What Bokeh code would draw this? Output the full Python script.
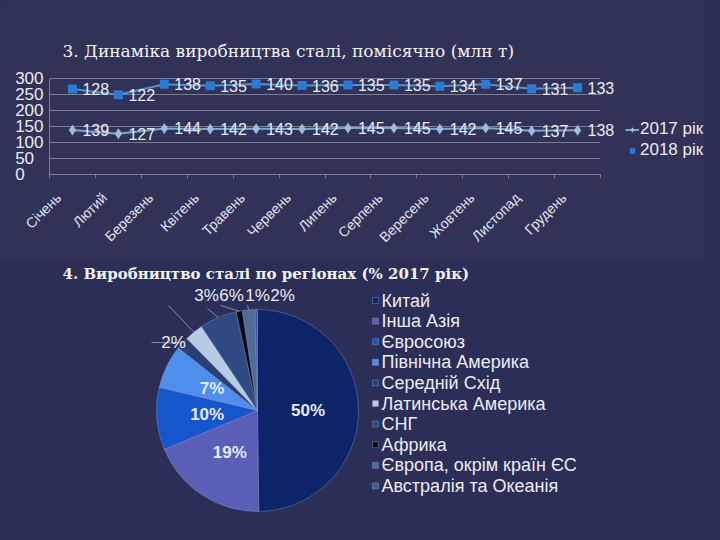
import math
import numpy as np
from bokeh.plotting import figure
from bokeh.models import (ColumnDataSource, Range1d, FixedTicker, LabelSet, Label,
                          Legend, LegendItem)
from bokeh.layouts import column
from bokeh.embed import file_html
from bokeh.resources import INLINE
from bokeh.core.properties import value

# ---------------- data ----------------
months = ["Січень", "Лютий", "Березень", "Квітень", "Травень", "Червень",
          "Липень", "Серпень", "Вересень", "Жовтень", "Листопад", "Грудень"]
prod_2017 = [139, 127, 144, 142, 143, 142, 145, 145, 142, 145, 137, 138]
prod_2018 = [128, 122, 138, 135, 140, 136, 135, 135, 134, 137, 131, 133]
y_ticks = [0, 50, 100, 150, 200, 250, 300]
series_names = ["2017 рік", "2018 рік"]
title_line = "3. Динаміка виробництва сталі, помісячно (млн т)"

regions = ["Китай", "Інша Азія", "Євросоюз", "Північна Америка", "Середній Схід",
           "Латинська Америка", "СНГ", "Африка", "Європа, окрім країн ЄС",
           "Австралія та Океанія"]
shares = [50, 19, 10, 7, 2, 3, 6, 1, 2, 0.4]
share_labels = ["50%", "19%", "10%", "7%", "2%", "3%", "6%", "1%", "2%", ""]
title_pie = "4. Виробництво сталі по регіонах (% 2017 рік)"

# ---------------- styles / layout ----------------
pie_colors = ["#0e2468", "#5b5eb6", "#1656cc", "#4e8fee", "#2c3f72",
              "#b7cbe6", "#2f4a82", "#0a0b18", "#4f6b97", "#3d5ca6"]
BG1 = "#303357"
PAGE_BG = "#2b2e56"
BG2 = PAGE_BG
TXT = "#ebebf2"
GRID = "#7c7e90"
SANS = "Liberation Sans"
NBSP = "\u00a0"
W = 704
H1 = 258
H2 = 266
FRAME_L = 49          # page x of the value axis
CAT_PX = 551 / 12     # px per month
Y0_PX = 174           # page y of value 0
PX_PER_UNIT = 0.32    # px per million tonnes

# ---------------- line chart ----------------
x = [i + 1 for i in range(len(months))]
y17 = list(prod_2017)
y18 = [a + b for a, b in zip(prod_2017, prod_2018)]  # stacked line chart
src = ColumnDataSource(dict(x=x, y17=y17, y18=y18,
                            l17=[str(v) for v in prod_2017],
                            l18=[str(v) for v in prod_2018]))

x_end = 0.5 + (W - FRAME_L) / CAT_PX
y_end = Y0_PX / PX_PER_UNIT
p1 = figure(width=W, height=H1, x_range=Range1d(0.5, x_end),
            y_range=Range1d(0, y_end),
            output_backend="svg", toolbar_location=None,
            min_border_left=FRAME_L, min_border_right=0,
            min_border_top=0, min_border_bottom=H1 - Y0_PX)
p1.background_fill_color = BG1
p1.border_fill_color = BG1
p1.outline_line_color = None
p1.xgrid.visible = False
p1.ygrid.visible = False

# gridlines across the category span only
gsrc = ColumnDataSource(dict(x0=[0.5] * len(y_ticks),
                             x1=[len(months) + 0.5] * len(y_ticks),
                             y=y_ticks))
p1.segment(x0='x0', y0='y', x1='x1', y1='y', source=gsrc,
           line_color=GRID, line_width=1)

l1 = p1.line('x', 'y17', source=src, line_color="#7fa6cc", line_width=2)
s1 = p1.scatter('x', 'y17', source=src, marker="diamond", size=11,
                fill_color="#9fbbd8", line_color=None)
l2 = p1.line('x', 'y18', source=src, line_color="#5a8fcc", line_width=2)
s2 = p1.scatter('x', 'y18', source=src, marker="square", size=9,
                fill_color="#2b7bd4", line_color=None)

for col in ("17", "18"):
    p1.add_layout(LabelSet(x='x', y='y' + col, text='l' + col, source=src,
                           x_offset=10, text_baseline="middle",
                           text_font_size="16px", text_color=TXT,
                           text_font=value(SANS)))

xa = p1.xaxis[0]
xa.bounds = (0.5, len(months) + 0.5)
xa.ticker = FixedTicker(ticks=x, minor_ticks=[i + 0.5 for i in range(len(months) + 1)])
xa.major_label_overrides = {xi: m + NBSP * 5 for xi, m in zip(x, months)}
xa.major_label_orientation = math.pi / 4
xa.major_tick_in = 0
xa.major_tick_out = 0
xa.minor_tick_in = 0
xa.minor_tick_out = 4
xa.minor_tick_line_color = GRID
xa.axis_line_color = GRID
xa.major_label_text_color = "#e2e2ea"
xa.major_label_text_font = SANS
xa.major_label_text_font_size = "14px"
xa.major_label_standoff = 3

ya = p1.yaxis[0]
ya.bounds = (y_ticks[0], y_ticks[-1])
ya.ticker = FixedTicker(ticks=y_ticks)
ya.major_label_overrides = {t: str(t) + NBSP * (2 * (3 - len(str(t)))) for t in y_ticks}
ya.major_tick_in = 0
ya.major_tick_out = 0
ya.minor_tick_line_color = None
ya.axis_line_color = GRID
ya.major_label_text_color = TXT
ya.major_label_text_font = SANS
ya.major_label_text_font_size = "17px"
ya.major_label_standoff = 6

leg = Legend(items=[LegendItem(label=series_names[0], renderers=[l1, s1]),
                    LegendItem(label=series_names[1], renderers=[s2])],
             location=(625 - FRAME_L, Y0_PX - 160.5), orientation="vertical",
             background_fill_alpha=0, border_line_color=None,
             padding=0, margin=0, spacing=0,
             glyph_width=14, glyph_height=21, label_height=21,
             label_standoff=1, label_text_font_size="17px",
             label_text_color=TXT, label_text_font=SANS)
p1.add_layout(leg)

p1.add_layout(Label(x=62 - FRAME_L, y=Y0_PX - 50, x_units="screen", y_units="screen",
                    text=title_line, text_font="DejaVu Serif",
                    text_font_size="17px", text_color="#f2f2f2",
                    text_baseline="middle"))

# ---------------- pie chart ----------------
PAGE_BOTTOM = H1 + H2


def Y(page_y):
    return PAGE_BOTTOM - page_y


p2 = figure(width=W, height=H2, x_range=Range1d(FRAME_L, W), y_range=Range1d(0, H2),
            x_axis_type=None, y_axis_type=None, output_backend="svg",
            toolbar_location=None, min_border_left=FRAME_L, min_border_right=0,
            min_border_top=0, min_border_bottom=0)
p2.background_fill_color = BG2
p2.border_fill_color = BG2
p2.outline_line_color = None

CX, CY, R = 257, Y(410), 101
total = float(sum(shares))
cum = np.cumsum([0.0] + list(shares)) / total
start = [math.pi / 2 - c * 2 * math.pi for c in cum[1:]]
end = [math.pi / 2 - c * 2 * math.pi for c in cum[:-1]]
mid = [(a + b) / 2 for a, b in zip(start, end)]

psrc = ColumnDataSource(dict(start=start, end=end, color=pie_colors, region=regions))
p2.wedge(x=CX, y=CY, radius=R, start_angle='start', end_angle='end',
         fill_color='color', line_color="#9aa6d0", line_alpha=0.45,
         line_width=0.8, source=psrc)

# labels inside the big slices
inside = [0, 1, 2, 3]
isrc = ColumnDataSource(dict(
    x=[CX + 0.5 * R * math.cos(mid[i]) for i in inside],
    y=[CY + 0.5 * R * math.sin(mid[i]) for i in inside],
    t=[share_labels[i] for i in inside]))
p2.text(x='x', y='y', text='t', source=isrc, text_align="center",
        text_baseline="middle", text_font=value(SANS), text_font_size="17px",
        text_font_style="bold", text_color="#e6eaf6")

# labels outside the small slices, with leader lines
outside = [4, 5, 6, 7, 8]
out_pos = [(173, 342), (206, 295), (231, 295), (257, 295), (282, 295)]
lead_start = [(151, 342), (168, 305), (207, 308), (220, 305), (247, 305)]
osrc = ColumnDataSource(dict(
    x=[p[0] for p in out_pos], y=[Y(p[1]) for p in out_pos],
    t=[share_labels[i] for i in outside],
    x0=[p[0] for p in lead_start], y0=[Y(p[1]) for p in lead_start],
    x1=[CX + R * math.cos(mid[i]) for i in outside],
    y1=[CY + R * math.sin(mid[i]) for i in outside]))
p2.segment(x0='x0', y0='y0', x1='x1', y1='y1', source=osrc,
           line_color="#a0a6c0", line_width=0.8)
p2.text(x='x', y='y', text='t', source=osrc, text_align="center",
        text_baseline="middle", text_font=value(SANS), text_font_size="17px",
        text_color=TXT)

# legend (drawn as marks + texts)
lsrc = ColumnDataSource(dict(
    x=[375] * len(regions), y=[Y(300 + 20.6 * i) for i in range(len(regions))],
    tx=[381] * len(regions), region=regions, color=pie_colors))
p2.scatter(x='x', y='y', source=lsrc, marker="square", size=6,
           fill_color='color', line_color="#8090b8", line_width=0.5)
p2.text(x='tx', y='y', text='region', source=lsrc, text_align="left",
        text_baseline="middle", text_font=value(SANS), text_font_size="18px",
        text_color=TXT)

p2.add_layout(Label(x=62, y=Y(273), text=title_pie, text_font="DejaVu Serif",
                    text_font_size="15px", text_font_style="bold",
                    text_color="#f2f2f2", text_baseline="middle"))

layout = column(p1, p2, spacing=0)
html = file_html(layout, INLINE)
html = html.replace("</head>",
                    "<style>html,body{margin:0 !important;background:%s !important;}</style></head>" % PAGE_BG, 1)
open("out.html", "w").write(html)
